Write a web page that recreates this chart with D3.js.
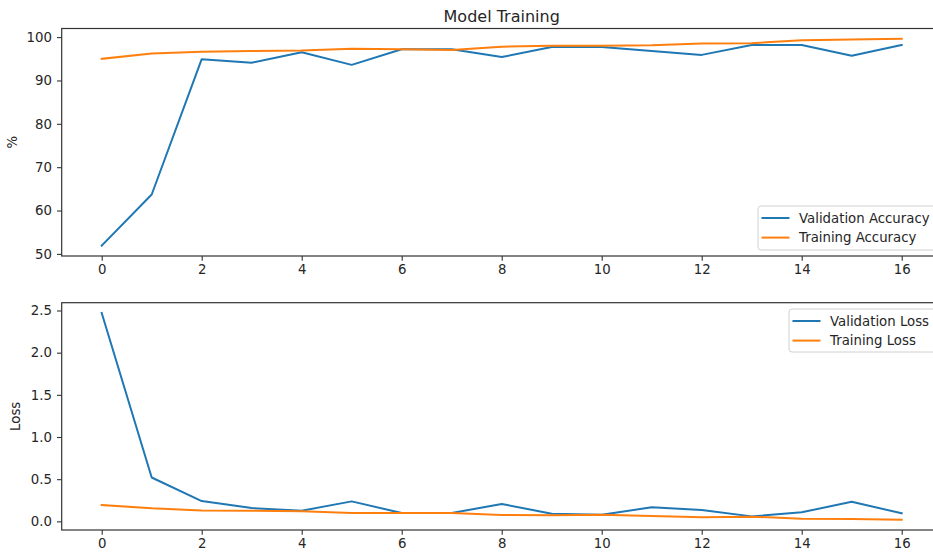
<!DOCTYPE html>
<html>
<head>
<meta charset="utf-8">
<script src="https://cdn.jsdelivr.net/npm/d3@7"></script>
<style>
  html, body { margin: 0; padding: 0; background: #fff; }
  svg { display: block; font-family: "DejaVu Sans", sans-serif; }
</style>
</head>
<body>
<svg id="chart" width="933" height="552"></svg>
<script>
// Training history per epoch
const epochs = d3.range(0, 17);
const valAccuracy = [51.9, 63.7, 94.9, 94.1, 96.5, 93.6, 97.2, 97.2, 95.4, 97.7, 97.7, 96.8, 95.9, 98.2, 98.2, 95.7, 98.2];
const trainAccuracy = [95.0, 96.2, 96.6, 96.8, 96.9, 97.3, 97.2, 97.0, 97.8, 98.0, 98.0, 98.1, 98.5, 98.6, 99.3, 99.45, 99.6];
const valLoss = [2.47, 0.52, 0.24, 0.158, 0.127, 0.237, 0.099, 0.099, 0.206, 0.091, 0.079, 0.166, 0.135, 0.059, 0.107, 0.233, 0.095];
const trainLoss = [0.194, 0.154, 0.13, 0.127, 0.12, 0.099, 0.099, 0.10, 0.075, 0.071, 0.079, 0.064, 0.048, 0.056, 0.032, 0.028, 0.02];

const xTicks = [0, 2, 4, 6, 8, 10, 12, 14, 16];
const accTicks = [50, 60, 70, 80, 90, 100];
const lossTicks = [0.0, 0.5, 1.0, 1.5, 2.0, 2.5];

const BLUE = "#1f77b4", ORANGE = "#ff7f0e";
const TEXT = "#262626";
const FONT = "13.3px";
const svg = d3.select("#chart");

// pad a domain by 5% on each side
function padded(values) {
  const [lo, hi] = d3.extent(values);
  const p = (hi - lo) * 0.05;
  return [lo - p, hi + p];
}

const left = 61.7, right = 941.7;
const x = d3.scaleLinear().domain(padded(epochs)).range([left, right]);

function panel(opts) {
  const { top, bottom, series, ticks, fmt, ylabel, ylabelX, legend } = opts;
  const all = series.flatMap(s => s.values);
  const y = d3.scaleLinear().domain(padded(all)).range([bottom, top]);
  const g = svg.append("g");

  // lines
  const line = d3.line().x((d, i) => x(epochs[i])).y(d => y(d));
  series.forEach(s => {
    g.append("path")
      .datum(s.values)
      .attr("fill", "none")
      .attr("stroke", s.color)
      .attr("stroke-width", 2)
      .attr("stroke-linejoin", "round")
      .attr("stroke-linecap", "square")
      .attr("d", line);
  });

  // axes
  const xAxis = d3.axisBottom(x).tickValues(xTicks).tickSize(4.7).tickPadding(4.2).tickFormat(d3.format("d"));
  const yAxis = d3.axisLeft(y).tickValues(ticks).tickSize(4.7).tickPadding(5).tickFormat(fmt);
  const gx = g.append("g").attr("transform", `translate(0,${bottom})`).call(xAxis);
  const gy = g.append("g").attr("transform", `translate(${left},0)`).call(yAxis);
  [gx, gy].forEach(a => {
    a.select(".domain").remove();
    a.selectAll("line").attr("stroke", "#333").attr("stroke-width", 1.1);
    a.selectAll("text").attr("fill", TEXT).style("font-size", FONT).style("font-family", "DejaVu Sans");
  });

  // frame
  g.append("rect")
    .attr("x", left).attr("y", top)
    .attr("width", right - left).attr("height", bottom - top)
    .attr("fill", "none").attr("stroke", "#333").attr("stroke-width", 1.2);

  // y label
  g.append("text")
    .attr("transform", `translate(${ylabelX},${(top + bottom) / 2}) rotate(-90)`)
    .attr("text-anchor", "middle")
    .attr("fill", TEXT)
    .style("font-size", FONT)
    .text(ylabel);

  // legend
  const lg = g.append("g").attr("transform", `translate(${legend.x},${legend.y})`);
  lg.append("rect")
    .attr("x", 0.5).attr("y", 0.5)
    .attr("width", legend.w).attr("height", legend.h)
    .attr("rx", 3).attr("ry", 3)
    .attr("fill", "#fff").attr("fill-opacity", 0.8)
    .attr("stroke", "#d0d0d0").attr("stroke-width", 1);
  series.forEach((s, i) => {
    const cy = 12.5 + i * 19.6;
    lg.append("line")
      .attr("x1", 4).attr("x2", 32)
      .attr("y1", cy).attr("y2", cy)
      .attr("stroke", s.color).attr("stroke-width", 2);
    lg.append("text")
      .attr("x", 41.5).attr("y", cy)
      .attr("dy", "0.36em")
      .attr("fill", TEXT)
      .style("font-size", FONT)
      .text(s.name);
  });
}

// title
svg.append("text")
  .attr("x", (left + right) / 2)
  .attr("y", 21.5)
  .attr("text-anchor", "middle")
  .attr("fill", TEXT)
  .style("font-size", "16px")
  .text("Model Training");

panel({
  top: 28.5, bottom: 256,
  series: [
    { name: "Validation Accuracy", values: valAccuracy, color: BLUE },
    { name: "Training Accuracy", values: trainAccuracy, color: ORANGE }
  ],
  ticks: accTicks, fmt: d3.format("d"),
  ylabel: "%", ylabelX: 17,
  legend: { x: 757.5, y: 205.5, w: 190, h: 44 }
});

panel({
  top: 302.7, bottom: 530,
  series: [
    { name: "Validation Loss", values: valLoss, color: BLUE },
    { name: "Training Loss", values: trainLoss, color: ORANGE }
  ],
  ticks: lossTicks, fmt: d3.format(".1f"),
  ylabel: "Loss", ylabelX: 20,
  legend: { x: 788.5, y: 308.5, w: 149, h: 43 }
});
</script>
</body>
</html>
